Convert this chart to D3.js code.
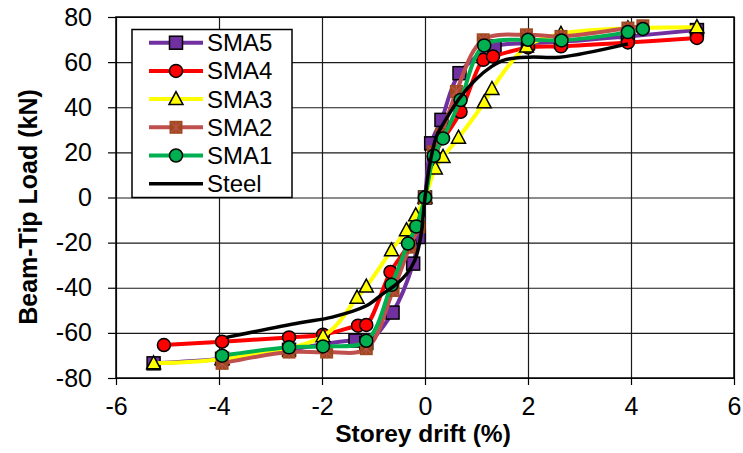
<!DOCTYPE html>
<html>
<head>
<meta charset="utf-8">
<script src="https://cdn.jsdelivr.net/npm/d3@7"></script>
<style>
  body { margin: 0; background: #fff; }
  text { font-family: "Liberation Sans", Arial, sans-serif; }
</style>
</head>
<body>
<div id="chart-area"></div>
<script>
// storey drift (%) and beam-tip load (kN)
var sma5Drift = [-5.27, -3.94, -2.64, -1.35, -1.14, -0.63, -0.23, -0.12, 0, 0.12, 0.32, 0.67, 1.35, 2.0, 2.64, 3.94, 5.28];
var sma5Load  = [-73.5, -71.5, -67.5, -63.4, -64.5, -51, -29.3, -17.5, 0, 24, 34.4, 55.1, 66.9, 68.4, 69, 71.4, 74.2];

var sma4Drift = [-5.07, -3.94, -2.64, -1.98, -1.3, -1.14, -0.67, -0.3, 0, 0.17, 0.69, 1.13, 1.32, 2.0, 2.64, 3.94, 5.28];
var sma4Load  = [-65.4, -63.9, -62, -60.8, -56.8, -56.5, -33, -20, 0, 18, 38, 61, 62.5, 66.5, 67, 68.7, 70.7];

var sma3Drift = [-5.27, -3.94, -1.98, -1.32, -1.14, -0.65, -0.36, -0.18, 0, 0.2, 0.35, 0.65, 1.15, 1.3, 1.97, 2.64, 3.94, 5.28];
var sma3Load  = [-73.5, -71.6, -61.5, -44.4, -39.5, -23.4, -14.5, -7.9, 0, 12.9, 18, 26.5, 42.2, 48.1, 66.9, 72.5, 75, 75.5];

var sma2Drift = [-3.94, -2.64, -1.91, -1.14, -0.62, -0.3, -0.12, 0, 0.16, 0.32, 0.61, 1.13, 1.97, 2.64, 3.94, 4.23];
var sma2Load  = [-73.5, -68.5, -68.5, -67, -41.2, -22, -13, 0, 20.3, 28, 47, 69.9, 72.1, 71.4, 75.1, 76.1];

var sma1Drift = [-3.94, -2.64, -1.98, -1.14, -0.65, -0.33, -0.17, 0, 0.17, 0.35, 0.69, 1.15, 2.0, 2.65, 3.94, 4.23];
var sma1Load  = [-70.1, -66.4, -66, -63.5, -38.7, -20.4, -12.8, 0, 18.5, 26.2, 43.2, 67.4, 69.9, 69.6, 73.3, 74.7];

var steelDrift = [-3.86, -2.43, -1.8, -1.14, -0.82, -0.56, -0.36, -0.2, -0.08, 0, 0.09, 0.22, 0.35, 0.67, 0.97, 1.29, 1.55, 2.03, 2.62, 3.94];
var steelLoad  = [-62, -55.5, -53, -48, -42.7, -38.5, -34, -28, -17, 0, 14.4, 27, 32.5, 44, 52, 58, 61, 62.2, 62.2, 68.1];

var seriesNames = ["SMA5", "SMA4", "SMA3", "SMA2", "SMA1", "Steel"];
var xTicks = [-6, -4, -2, 0, 2, 4, 6];
var yTicks = [-80, -60, -40, -20, 0, 20, 40, 60, 80];

var series = [
    { name: seriesNames[0], x: sma5Drift, y: sma5Load, color: "#7030a0", marker: "square", fill: "#7030a0" },
    { name: seriesNames[1], x: sma4Drift, y: sma4Load, color: "#ff0000", marker: "circle", fill: "#ff0000" },
    { name: seriesNames[2], x: sma3Drift, y: sma3Load, color: "#ffff00", marker: "triangle", fill: "#ffff00" },
    { name: seriesNames[3], x: sma2Drift, y: sma2Load, color: "#c0504d", marker: "star", fill: "#9c4a1c" },
    { name: seriesNames[4], x: sma1Drift, y: sma1Load, color: "#00b050", marker: "circle", fill: "#00b050" },
    { name: seriesNames[5], x: steelDrift, y: steelLoad, color: "#000000", marker: null }
];

var margin = { left: 116, right: 9, top: 17, bottom: 75 };
var width = 743 - margin.left - margin.right,
    height = 453 - margin.top - margin.bottom;

var svg = d3.select("#chart-area")
    .append("svg")
        .attr("width", 743)
        .attr("height", 453);

var g = svg.append("g")
    .attr("transform", "translate(" + margin.left + "," + margin.top + ")");

var x = d3.scaleLinear().domain([-6, 6]).range([0, width]);
var y = d3.scaleLinear().domain([-80, 80]).range([height, 0]);

// gridlines
g.append("g")
    .call(d3.axisLeft(y).tickValues(yTicks).tickSize(-width).tickFormat(""))
    .call(a => a.select(".domain").remove())
    .selectAll("line").attr("stroke", "#1a1a1a").attr("stroke-width", 1.2);
g.append("g")
    .attr("transform", "translate(0," + height + ")")
    .call(d3.axisBottom(x).tickValues(xTicks).tickSize(-height).tickFormat(""))
    .call(a => a.select(".domain").remove())
    .selectAll("line").attr("stroke", "#1a1a1a").attr("stroke-width", 1.2);

g.append("rect")
    .attr("width", width).attr("height", height)
    .attr("fill", "none").attr("stroke", "#000").attr("stroke-width", 1.5);

// axes (plain hyphen for negatives, like the original)
var yAxis = g.append("g")
    .call(d3.axisLeft(y).tickValues(yTicks).tickSize(8).tickPadding(16).tickFormat(d => String(d)));
var xAxis = g.append("g")
    .attr("transform", "translate(0," + height + ")")
    .call(d3.axisBottom(x).tickValues(xTicks).tickSize(7).tickPadding(12).tickFormat(d => String(d)));
[xAxis, yAxis].forEach(a => {
    a.select(".domain").remove();
    a.selectAll("line").attr("stroke", "#000").attr("stroke-width", 1.2);
    a.selectAll("text").attr("font-size", 25).attr("fill", "#000")
        .style("font-family", "'Liberation Sans', Arial, sans-serif");
});

g.append("text")
    .attr("x", width / 2 - 2).attr("y", height + 64)
    .attr("text-anchor", "middle")
    .attr("font-size", 24.5).attr("font-weight", "bold")
    .text("Storey drift (%)");

g.append("text")
    .attr("transform", "translate(" + (37 - margin.left) + "," + (190) + ") rotate(-90)")
    .attr("text-anchor", "middle")
    .attr("font-size", 25).attr("font-weight", "bold")
    .text("Beam-Tip Load (kN)");

// markers
function drawMarker(sel, type, fill) {
    if (type == "circle") {
        sel.append("circle").attr("r", 6.5)
            .attr("fill", fill).attr("stroke", "#000").attr("stroke-width", 1.5);
    } else if (type == "square") {
        sel.append("rect").attr("x", -6.5).attr("y", -6.5).attr("width", 13).attr("height", 13)
            .attr("fill", fill).attr("stroke", "#000").attr("stroke-width", 1.5);
    } else if (type == "triangle") {
        sel.append("path").attr("d", "M0,-7.5L7,5.5L-7,5.5Z")
            .attr("fill", fill).attr("stroke", "#000").attr("stroke-width", 1.5);
    } else if (type == "star") {
        sel.append("rect").attr("x", -6.5).attr("y", -6.5).attr("width", 13).attr("height", 13)
            .attr("fill", fill);
        sel.append("path").attr("d", "M-5,-5L5,5M5,-5L-5,5M0,-6.5L0,6.5")
            .attr("stroke", "#c0504d").attr("stroke-width", 1.2);
    }
}

var line = d3.line()
    .x(d => x(d[0]))
    .y(d => y(d[1]))
    .curve(d3.curveCatmullRom.alpha(0.5));

var plot = g.append("g");
series.forEach(s => {
    var pts = s.x.map((v, i) => [v, s.y[i]]);
    var sg = plot.append("g");
    sg.append("path")
        .attr("d", line(pts))
        .attr("fill", "none")
        .attr("stroke", s.color)
        .attr("stroke-width", s.marker ? 4 : 3.5)
        .attr("stroke-linejoin", "round");
    if (s.marker) {
        sg.selectAll("g.m")
            .data(pts)
            .join("g")
                .attr("class", "m")
                .attr("transform", d => "translate(" + x(d[0]) + "," + y(d[1]) + ")")
                .each(function() { drawMarker(d3.select(this), s.marker, s.fill); });
    }
});

// legend
var legend = svg.append("g");
legend.append("rect")
    .attr("x", 132).attr("y", 29.5).attr("width", 160).attr("height", 168)
    .attr("fill", "#fff").attr("stroke", "#000").attr("stroke-width", 1.5);

var rows = legend.selectAll("g.row")
    .data(series)
    .join("g")
        .attr("class", "row")
        .attr("transform", (d, i) => "translate(176," + (42.7 + i * 28.2) + ")");
rows.append("line")
    .attr("x1", -27).attr("x2", 27)
    .attr("stroke", d => d.color).attr("stroke-width", d => d.marker ? 4 : 3.5);
rows.each(function(d) { if (d.marker) drawMarker(d3.select(this), d.marker, d.fill); });
rows.append("text")
    .attr("x", 31).attr("dy", "0.35em")
    .attr("font-size", 24)
    .text(d => d.name);
</script>
</body>
</html>
